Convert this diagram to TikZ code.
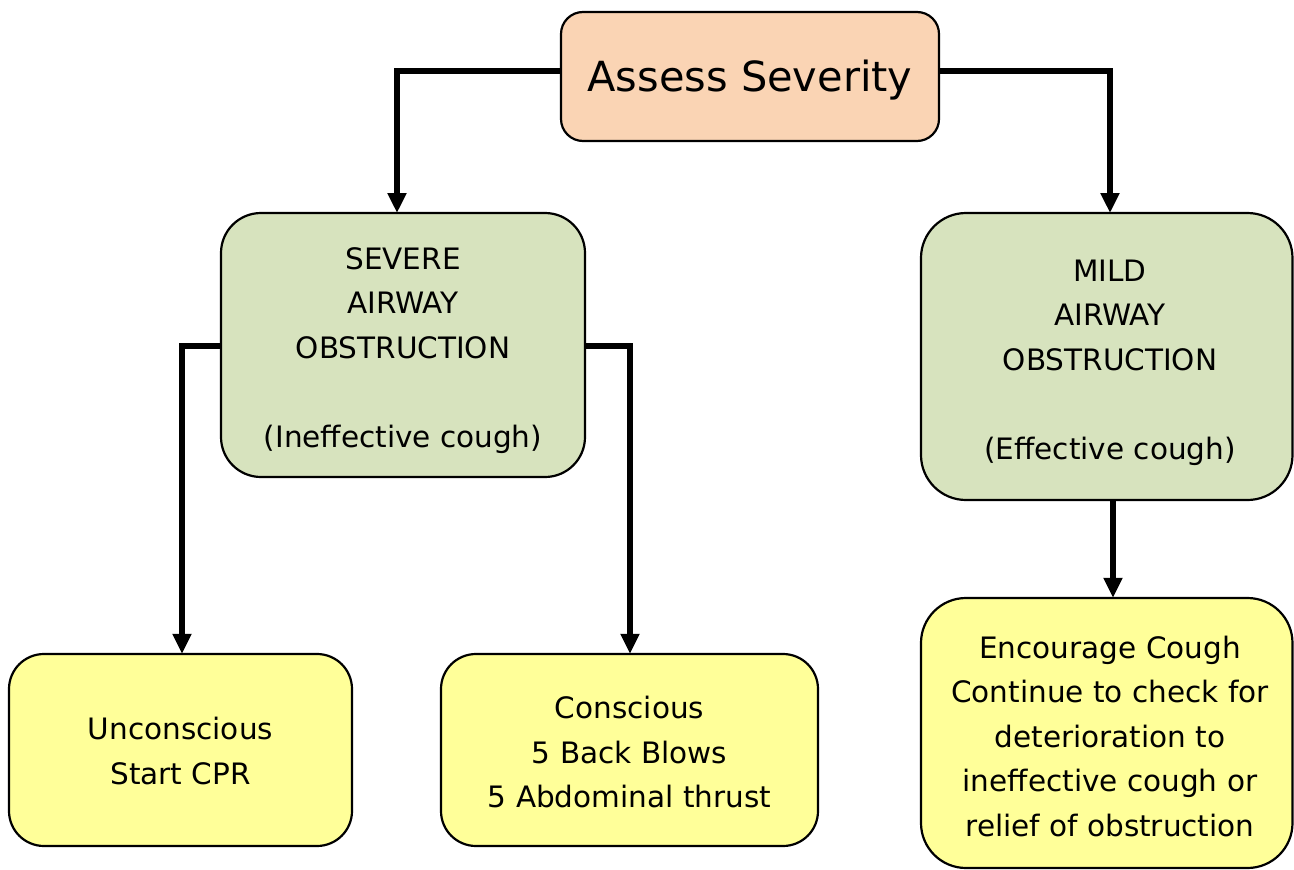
\documentclass[tikz,border=0pt]{standalone}
\usepackage{fontspec}
\setmainfont{DejaVu Sans}
\usetikzlibrary{arrows.meta}
\definecolor{peach}{HTML}{FAD4B4}
\definecolor{sage}{HTML}{D7E3BE}
\definecolor{pale}{HTML}{FFFF99}
\begin{document}
\begin{tikzpicture}[x=1pt,y=-1pt,
  box/.style={draw=black,line width=2.2pt,rounded corners=#1},
  txt/.style={font=\fontsize{29.5}{44.5}\selectfont,align=center},
  conn/.style={line width=5.5pt,-{Triangle[length=20pt,width=18pt]}}]
\useasboundingbox (0,0) rectangle (1294,870);
% boxes
\draw[box=22pt,fill=peach] (561,12) rectangle (939,141);
\node (assess) at (750,76.5) [minimum width=378pt,minimum height=129pt,inner sep=0pt] {};
\node at (750,80) [font=\fontsize{41.5}{48}\selectfont] {Assess Severity};
\draw[box=40pt,fill=sage] (221,213) rectangle (585,477);
\node (severe) at (403,345) [minimum width=364pt,minimum height=264pt,inner sep=0pt] {};
\draw[box=45pt,fill=sage] (921,213) rectangle (1292.5,500);
\node (mild) at (1107,356.5) [minimum width=371pt,minimum height=287pt,inner sep=0pt] {};
\draw[box=35pt,fill=pale] (9,654) rectangle (352,846);
\node (uncon) at (180.5,750) [minimum width=343pt,minimum height=192pt,inner sep=0pt] {};
\draw[box=35pt,fill=pale] (441,654) rectangle (818,846);
\node (con) at (629.5,750) [minimum width=377pt,minimum height=192pt,inner sep=0pt] {};
\draw[box=45pt,fill=pale] (921,598) rectangle (1292.5,868);
\node (enc) at (1107,733) [minimum width=371pt,minimum height=270pt,inner sep=0pt] {};
% texts
\node[txt,anchor=north] at (403,244) {SEVERE\\AIRWAY\\OBSTRUCTION\\[44.5pt](Ineffective cough)};
\node[txt,anchor=north] at (1110,256) {MILD\\AIRWAY\\OBSTRUCTION\\[44.5pt](Effective cough)};
\node[txt] at (180.5,751) {Unconscious\\Start CPR};
\node[txt] at (629.5,752) {Conscious\\5 Back Blows\\5 Abdominal thrust};
\node[txt] at (1110,736) {Encourage Cough\\Continue to check for\\deterioration to\\ineffective cough or\\relief of obstruction};
% connectors
\draw[conn] (assess.west |- 0,71) -- (397,71) -- (397,213);
\draw[conn] (assess.east |- 0,71) -- (1110,71) -- (1110,213);
\draw[conn] (severe.west |- 0,346) -- (182,346) -- (uncon.north -| 182,0);
\draw[conn] (severe.east |- 0,346) -- (630,346) -- (con.north -| 630,0);
\draw[conn] (mild.south -| 1113,0) -- (enc.north -| 1113,0);
\end{tikzpicture}
\end{document}
